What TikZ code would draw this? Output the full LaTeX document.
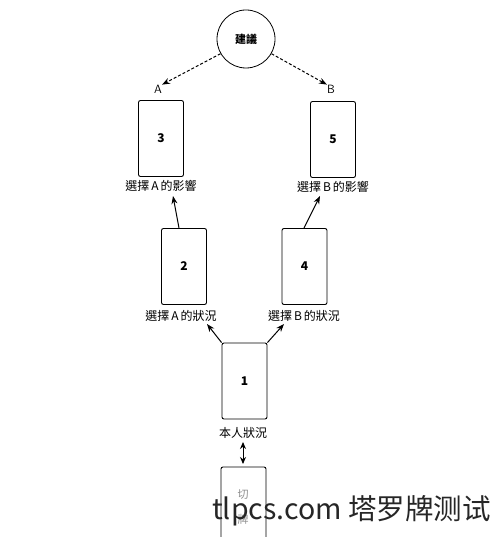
\documentclass[tikz,border=0pt]{standalone}
\usepackage{fontspec}
\newfontfamily\cjk{Noto Sans CJK TC}
\newfontfamily\cjksc{Noto Sans CJK SC}
\usetikzlibrary{arrows.meta}
\begin{document}
\begin{tikzpicture}[x=1pt,y=-1pt,
  card/.style={draw, line width=0.9pt, rounded corners=2pt, minimum width=45pt, minimum height=76pt, inner sep=0pt, font=\cjk\bfseries\fontsize{12}{12}\selectfont},
  lbl/.style={font=\cjk\fontsize{12}{12}\selectfont, inner sep=0pt},
  arr/.style={line width=1pt, -{Stealth[length=8pt,width=6pt]}},
  darr/.style={line width=1pt, densely dashed, -{Stealth[length=8pt,width=6pt]}}]
\useasboundingbox (0,0) rectangle (500,537);
\node[draw, circle, line width=0.8pt, minimum size=58pt, inner sep=0pt, font=\cjk\bfseries\fontsize{11}{11}\selectfont] (adv) at (246,39) {建議};
\node[lbl, font=\sffamily\fontsize{12}{12}\selectfont] (A) at (158,89) {A};
\node[lbl, font=\sffamily\fontsize{12}{12}\selectfont] (B) at (331,89) {B};
\draw[darr] (adv.210) -- (A.north east);
\draw[darr] (adv.330) -- (B.north west);
\node[card] (c3) at (161,138.5) {3};
\node[card] (c5) at (333,139.5) {5};
\node[lbl] (l3) at (161,186) {選擇\,A\,的影響};
\node[lbl] (l5) at (333,187) {選擇\,B\,的影響};
\node[card] (c2) at (184,266.5) {2};
\node[card] (c4) at (304.5,266.5) {4};
\node[lbl] (l2) at (181,316) {選擇\,A\,的狀況};
\node[lbl] (l4) at (304,316) {選擇\,B\,的狀況};
\coordinate (t2) at (179,228);
\coordinate (h2) at (173,196);
\coordinate (t4) at (304,228);
\coordinate (h4) at (320,196);
\draw[arr] (t2) -- (h2);
\draw[arr] (t4) -- (h4);
\node[card] (c1) at (244.5,381) {1};
\node[lbl] (l1) at (243,433) {本人狀況};
\coordinate (h1a) at (207,324);
\coordinate (h1b) at (284,324);
\draw[arr] (c1.north west) -- (h1a);
\draw[arr] (c1.north east) -- (h1b);
\draw[line width=1pt, {Stealth[length=7pt,width=6pt]}-{Stealth[length=7pt,width=6pt]}] (243,442) -- (243,464);
\draw[line width=0.9pt, rounded corners=2pt] (221,545) -- (221,467) -- (266,467) -- (266,545);
\node[lbl, text=black!45, font=\cjk\fontsize{11}{11}\selectfont] (q1) at (243,495) {切};
\node[lbl, text=black!45, font=\cjk\fontsize{11}{11}\selectfont] (q2) at (243,519) {牌};
\node[inner sep=0pt, anchor=west, font=\cjksc\fontsize{28.5}{28.5}\selectfont, text=black!85] (wm) at (212,511) {tlpcs.com 塔罗牌测试};
\end{tikzpicture}
\end{document}
